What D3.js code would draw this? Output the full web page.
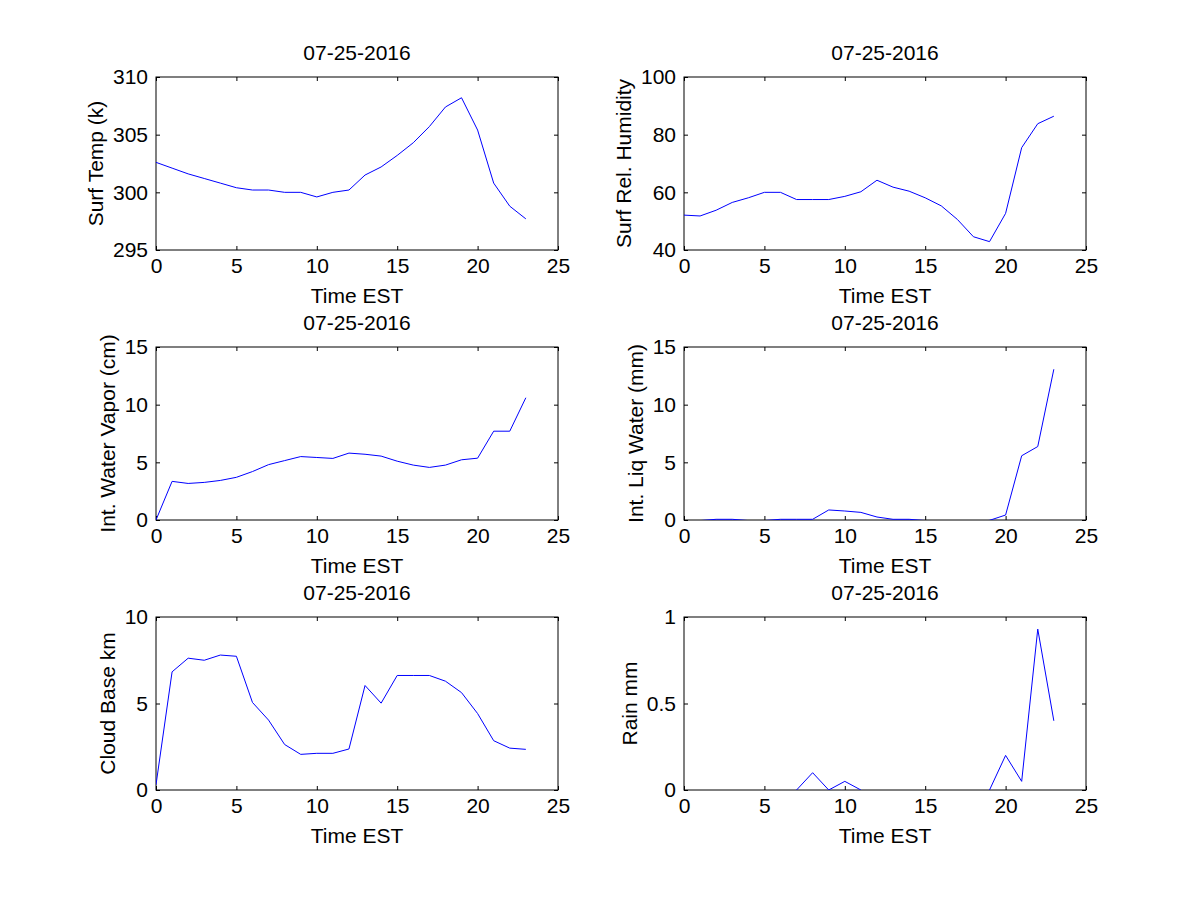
<!DOCTYPE html>
<html>
<head>
<meta charset="utf-8">
<script src="https://cdn.jsdelivr.net/npm/d3@7"></script>
<style>
  html, body { margin: 0; padding: 0; background: #fff; }
  svg text { font-family: "Liberation Sans", Arial, Helvetica, sans-serif; fill: #000; }
</style>
</head>
<body>
<svg id="chart" width="1200" height="900"></svg>
<script>
// ---- data (hourly, Time EST) ----
const hours = [0,1,2,3,4,5,6,7,8,9,10,11,12,13,14,15,16,17,18,19,20,21,22,23];
const dateTitle = "07-25-2016";
const xTicks = [0,5,10,15,20,25];

const surfTemp = [302.6,302.1,301.6,301.2,300.8,300.4,300.2,300.2,300.0,300.0,299.6,300.0,300.2,301.5,302.2,303.2,304.3,305.7,307.4,308.2,305.4,300.8,298.8,297.7];
const surfRelHum = [52.1,51.8,53.8,56.5,58.1,60.0,60.0,57.5,57.5,57.5,58.6,60.2,64.2,61.8,60.4,58.1,55.3,50.6,44.6,42.9,52.7,75.5,83.8,86.4];
const waterVapor = [0,3.35,3.17,3.26,3.43,3.7,4.2,4.8,5.15,5.5,5.42,5.34,5.8,5.7,5.54,5.1,4.76,4.56,4.76,5.22,5.36,7.7,7.7,10.6];
const liqWater = [-0.1,-0.05,0.06,0.06,-0.05,-0.05,0.06,0.06,0.06,0.87,0.78,0.66,0.26,0.06,0.06,-0.05,-0.2,-0.3,-0.2,-0.03,0.43,5.57,6.37,13.07];
const cloudBase = [0.3,6.83,7.62,7.5,7.8,7.73,5.06,4.04,2.63,2.06,2.12,2.12,2.37,6.04,5.02,6.62,6.62,6.62,6.29,5.63,4.42,2.85,2.42,2.35];
const rain = [null,null,null,null,null,null,null,0,0.1,0,0.05,0,null,null,null,null,null,null,null,0,0.2,0.05,0.93,0.40];

const tempTicks = [295,300,305,310];
const humTicks = [40,60,80,100];
const vaporTicks = [0,5,10,15];
const liqTicks = [0,5,10,15];
const cloudTicks = [0,5,10];
const rainTicks = [0,0.5,1];

const panels = [
  {values: surfTemp,   yTicks: tempTicks,  ylabel: "Surf Temp (k)"},
  {values: surfRelHum, yTicks: humTicks,   ylabel: "Surf Rel. Humidity"},
  {values: waterVapor, yTicks: vaporTicks, ylabel: "Int. Water Vapor (cm)"},
  {values: liqWater,   yTicks: liqTicks,   ylabel: "Int. Liq Water (mm)"},
  {values: cloudBase,  yTicks: cloudTicks, ylabel: "Cloud Base km"},
  {values: rain,       yTicks: rainTicks,  ylabel: "Rain mm"}
];

// ---- layout ----
const svg = d3.select("#chart");
const colLeft = [156, 684];
const rowTop = [77, 347, 617];
const W = 402, H = 173;
const tickLen = 4;
const fontSize = 21;

panels.forEach((p, i) => {
  const col = i % 2, row = Math.floor(i / 2);
  const g = svg.append("g").attr("transform", `translate(${colLeft[col]},${rowTop[row]})`);

  const x = d3.scaleLinear().domain([xTicks[0], xTicks[xTicks.length-1]]).range([0, W]);
  const y = d3.scaleLinear().domain([p.yTicks[0], p.yTicks[p.yTicks.length-1]]).range([H, 0]);

  const clipId = "clip" + i;
  g.append("clipPath").attr("id", clipId)
    .append("rect").attr("x", 0).attr("y", 0).attr("width", W).attr("height", H);

  const fmt = d => String(d);
  const bottom = g.append("g").attr("transform", `translate(0,${H})`)
    .call(d3.axisBottom(x).tickValues(xTicks).tickFormat(fmt).tickSizeInner(-tickLen).tickSizeOuter(0).tickPadding(10));
  const top = g.append("g")
    .call(d3.axisTop(x).tickValues(xTicks).tickFormat("").tickSizeInner(-tickLen).tickSizeOuter(0));
  const left = g.append("g")
    .call(d3.axisLeft(y).tickValues(p.yTicks).tickFormat(fmt).tickSizeInner(-tickLen).tickSizeOuter(0).tickPadding(8));
  const right = g.append("g").attr("transform", `translate(${W},0)`)
    .call(d3.axisRight(y).tickValues(p.yTicks).tickFormat("").tickSizeInner(-tickLen).tickSizeOuter(0));

  [bottom, top, left, right].forEach(a => {
    a.select(".domain").remove();
    a.selectAll("line").attr("stroke", "#000").attr("stroke-width", 1);
    a.selectAll("text").style("font-size", fontSize + "px").attr("fill", "#000");
  });
  bottom.selectAll("text").attr("dy", "0.71em").attr("y", 8);

  g.append("rect").attr("x", 0).attr("y", 0).attr("width", W).attr("height", H)
    .attr("fill", "none").attr("stroke", "#000").attr("stroke-width", 1);

  const line = d3.line()
    .defined(d => d[1] !== null)
    .x(d => x(d[0])).y(d => y(d[1]));
  g.append("path")
    .datum(hours.map((h, k) => [h, p.values[k]]))
    .attr("clip-path", `url(#${clipId})`)
    .attr("fill", "none").attr("stroke", "#0000ff").attr("stroke-width", 1)
    .attr("d", line);

  g.append("text").attr("x", W/2).attr("y", -17)
    .attr("text-anchor", "middle").style("font-size", fontSize + "px")
    .text(dateTitle);

  g.append("text").attr("x", W/2).attr("y", H + 53)
    .attr("text-anchor", "middle").style("font-size", fontSize + "px")
    .text("Time EST");

  let maxW = 0;
  left.selectAll("text").each(function(){ maxW = Math.max(maxW, this.getBBox().width); });
  const lx = -8 - maxW - 10;
  g.append("text").attr("transform", `translate(${lx},${H/2}) rotate(-90)`)
    .attr("text-anchor", "middle").style("font-size", fontSize + "px")
    .text(p.ylabel);
});
</script>
</body>
</html>
